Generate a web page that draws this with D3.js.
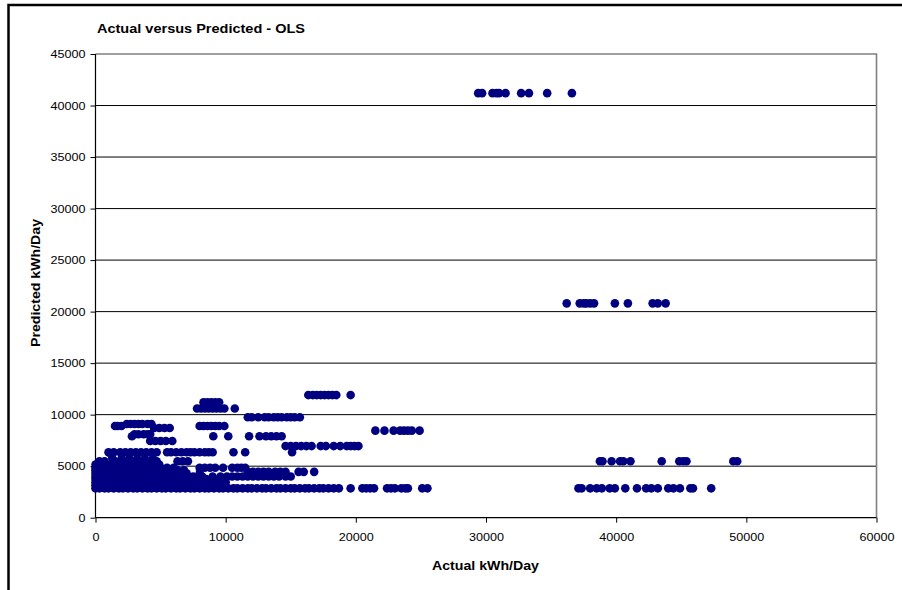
<!DOCTYPE html>
<html>
<head>
<meta charset="utf-8">
<script src="https://cdn.jsdelivr.net/npm/d3@7"></script>
<style>
  html, body { margin: 0; padding: 0; background: #fff; }
  svg { display: block; }
  text { font-family: "Liberation Sans", Arial, sans-serif; fill: #000; }
</style>
</head>
<body>
<svg id="chart" width="902" height="590"></svg>
<script>
// ---- Data: each band = predicted kWh/Day level, with the actual kWh/Day values observed at it ----
const xTicks = [0, 10000, 20000, 30000, 40000, 50000, 60000];
const yTicks = [0, 5000, 10000, 15000, 20000, 25000, 30000, 35000, 40000, 45000];

const p41200 = [29400, 29700, 30500, 30800, 31000, 31500, 32700, 33300, 34700, 36600];
const p20800 = [36200, 37200, 37500, 37700, 38000, 38300, 39900, 40900, 42800, 43200, 43800];
const p11900 = [16350, 16700, 17000, 17300, 17600, 17900, 18200, 18500, 19600];
const p11200 = [8300, 8600, 8900, 9200, 9500];
const p10900 = [8500, 9000, 9400];
const p10600 = [7800, 8100, 8400, 8700, 9000, 9300, 9600, 9900, 10700];
const p9750  = [11700, 12000, 12500, 13000, 13300, 13700, 14000, 14300, 14700, 15000, 15300, 15700];
const p9100  = [2400, 2700, 3000, 3300, 3600, 4000, 4300];
const p8900  = [1500, 1700, 2000, 8000, 8300, 8600, 8900, 9200, 9500, 9900];
const p8700  = [4500, 4900, 5300, 5700];
const p8450  = [21500, 22200, 22900, 23400, 23700, 24000, 24300, 24900];
const p8100  = [3000, 3300, 3700, 4000, 4200];
const p7900  = [2800, 9050, 10200, 11800, 12600, 13100, 13500, 13900, 14300];
const p7450  = [4200, 4600, 5000, 5400, 5900];
const p6950  = [14600, 15000, 15400, 15800, 16200, 16600, 17300, 17700, 18300, 18800, 19300, 19600, 19900, 20200];
const p6350  = [1000, 1400, 1900, 2300, 2700, 3100, 3500, 3900, 4300, 4700, 5500, 5800, 6200, 6600, 7000, 7300, 7600, 8000, 8400, 8700, 9000, 10600, 11500, 15100];
const p6150  = [1200];
const p5750  = [1300, 2000, 2600, 3200, 3800, 4400];
const p5480  = [300, 700, 1500, 2200, 2900, 3500, 4100, 4700, 6300, 6700, 7100,
                38750, 38950, 39650, 40300, 40550, 41100, 43500, 44850, 45150, 45400, 49000, 49300];
const p5150  = [0, 400, 800, 1200, 1600, 2000, 2400, 2800, 3200, 3600, 4000, 4400, 4900];
const p4850  = [0, 200, 600, 900, 1300, 1700, 2000, 2400, 2800, 3100, 3500, 3900, 4200, 4600, 5000, 5500, 6000,
                8000, 8400, 8800, 9200, 9800, 10500, 10900, 11200, 11500];
const p4600  = [0, 300, 700, 1000, 1400, 1800, 2100, 2500, 2900, 3200, 3600, 4000, 4300, 4700, 5100, 5500, 5900, 6300, 6800];
const p4450  = [11700, 12100, 12500, 12900, 13300, 13800, 14200, 14600, 15600, 16000, 16800];
const p4300  = [0, 200, 500, 900, 1200, 1600, 2000, 2300, 2700, 3100, 3400, 3800, 4200, 4500, 4900, 5300, 5700, 6100, 6600, 7000, 8000];
const p4000  = [0, 300, 700, 1000, 1400, 1800, 2100, 2500, 2900, 3200, 3600, 4000, 4300, 4700, 5100, 5400, 5800, 6200, 6600, 7000,
                7500, 8200, 9000, 9600, 10100, 10500, 10900, 11300, 11700, 12100, 12500, 12900, 13300, 13700, 14100, 14600, 15000];
const p3750  = [0, 200, 500, 800, 1200, 1500, 1900, 2300, 2600, 3000, 3400, 3700, 4100, 4500, 4800, 5200, 5600, 5900, 6300, 6700,
                7000, 7400, 7900, 8500, 9500];
const p3450  = [0, 300, 600, 1000, 1400, 1700, 2100, 2500, 2800, 3200, 3600, 3900, 4300, 4700, 5000, 5400, 5800, 6100, 6500, 6900,
                7200, 7600, 8000, 8300, 8700, 9100, 9600, 10000];
const p3150  = [0, 200, 500, 900, 1200, 1600, 2000, 2300, 2700, 3100, 3400, 3800, 4200, 4500, 4900, 5300, 5600, 6000, 6400, 6700,
                7100, 7500, 7800, 8200, 8600, 9000, 9300];
const p2850  = [0, 300, 700, 1000, 1400, 1800, 2100, 2500, 2900, 3200, 3600, 4000, 4300, 4700, 5100, 5400, 5800, 6200, 6500, 6900,
                7300, 7600, 8000, 8400, 8700, 9100, 9500, 9800, 10200, 10600, 10900, 11300, 11700, 12000, 12400, 12800, 13100,
                13500, 13900, 14200, 14600, 15000, 15300, 15700, 16100, 16400, 16800, 17200, 17500, 17900, 18300, 18700, 19600,
                20500, 20800, 21100, 21400, 22400, 22700, 23000, 23500, 23800, 24000, 25100, 25500,
                37100, 37350, 38000, 38500, 38900, 39500, 39900, 40700, 41600, 42300, 42700, 43200, 44000, 44400, 44900, 45700, 45900, 47300];

const bands = [
  [41200, p41200], [20800, p20800], [11900, p11900], [11200, p11200], [10900, p10900], [10600, p10600],
  [9750, p9750], [9100, p9100], [8900, p8900], [8700, p8700], [8450, p8450], [8100, p8100], [7900, p7900],
  [7450, p7450], [6950, p6950], [6350, p6350], [6150, p6150], [5750, p5750], [5480, p5480], [5150, p5150],
  [4850, p4850], [4600, p4600], [4450, p4450], [4300, p4300], [4000, p4000], [3750, p3750], [3450, p3450],
  [3150, p3150], [2850, p2850]
];
const points = bands.flatMap(([pred, acts]) => acts.map(a => ({x: a, y: pred})));

// ---- Drawing ----
const svg = d3.select("#chart");
svg.append("rect").attr("width", 902).attr("height", 590).attr("fill", "#fff");
// outer chart frame
svg.append("rect").attr("x", 8.5).attr("y", 5).attr("width", 910).attr("height", 600)
  .attr("fill", "none").attr("stroke", "#000").attr("stroke-width", 2.5);

const L = 95.5, R = 876.5, T = 54, B = 517.7;
const x = d3.scaleLinear().domain([0, 60000]).range([L, R]);
const y = d3.scaleLinear().domain([0, 45000]).range([B, T]);

// gridlines
svg.append("g").selectAll("line").data(yTicks.filter(v => v > 0 && v < 45000)).join("line")
  .attr("x1", L).attr("x2", R).attr("y1", d => y(d)).attr("y2", d => y(d))
  .attr("stroke", "#000").attr("stroke-width", 1);
// plot border top & right (gray)
svg.append("path").attr("d", `M${L},${y(45000)}H${R}V${B}`)
  .attr("fill", "none").attr("stroke", "#808080").attr("stroke-width", 1.6);

// axes
const fmt = d3.format("d");
const yAxis = d3.axisLeft(y).tickValues(yTicks).tickSize(5).tickPadding(5).tickFormat(fmt);
const xAxis = d3.axisBottom(x).tickValues(xTicks).tickSize(5).tickPadding(11).tickFormat(fmt);
const gy = svg.append("g").attr("transform", `translate(${L},0)`).call(yAxis);
const gx = svg.append("g").attr("transform", `translate(0,${B})`).call(xAxis);
[gx, gy].forEach(g => {
  g.select(".domain").attr("stroke", "#000").attr("stroke-width", 1.2);
  g.selectAll(".tick line").attr("stroke", "#000");
  g.selectAll(".tick text")
    .attr("font-size", "11px")
    .attr("font-family", "'Liberation Sans', Arial, sans-serif")
    .attr("fill", "#000")
    .attr("textLength", d => fmt(d).length * 7)
    .attr("lengthAdjust", "spacingAndGlyphs");
});
gx.select(".domain").attr("d", `M${L},0H${R}`);
gy.select(".domain").attr("d", `M0,${B}V${T}`);

// points
svg.append("g").selectAll("circle").data(points).join("circle")
  .attr("cx", d => x(d.x)).attr("cy", d => y(d.y)).attr("r", 4.3)
  .attr("fill", "#000080");

// titles
svg.append("text").attr("x", 97).attr("y", 33).attr("font-size", "12.5px").attr("font-weight", "bold")
  .attr("textLength", 208).attr("lengthAdjust", "spacingAndGlyphs")
  .text("Actual versus Predicted - OLS");
svg.append("text").attr("x", 485.5).attr("y", 570).attr("text-anchor", "middle")
  .attr("font-size", "12.5px").attr("font-weight", "bold")
  .attr("textLength", 107).attr("lengthAdjust", "spacingAndGlyphs")
  .text("Actual kWh/Day");
svg.append("text").attr("transform", `translate(39.5,283) rotate(-90)`).attr("text-anchor", "middle")
  .attr("font-size", "12.5px").attr("font-weight", "bold")
  .attr("textLength", 128).attr("lengthAdjust", "spacingAndGlyphs")
  .text("Predicted kWh/Day");
</script>
</body>
</html>
